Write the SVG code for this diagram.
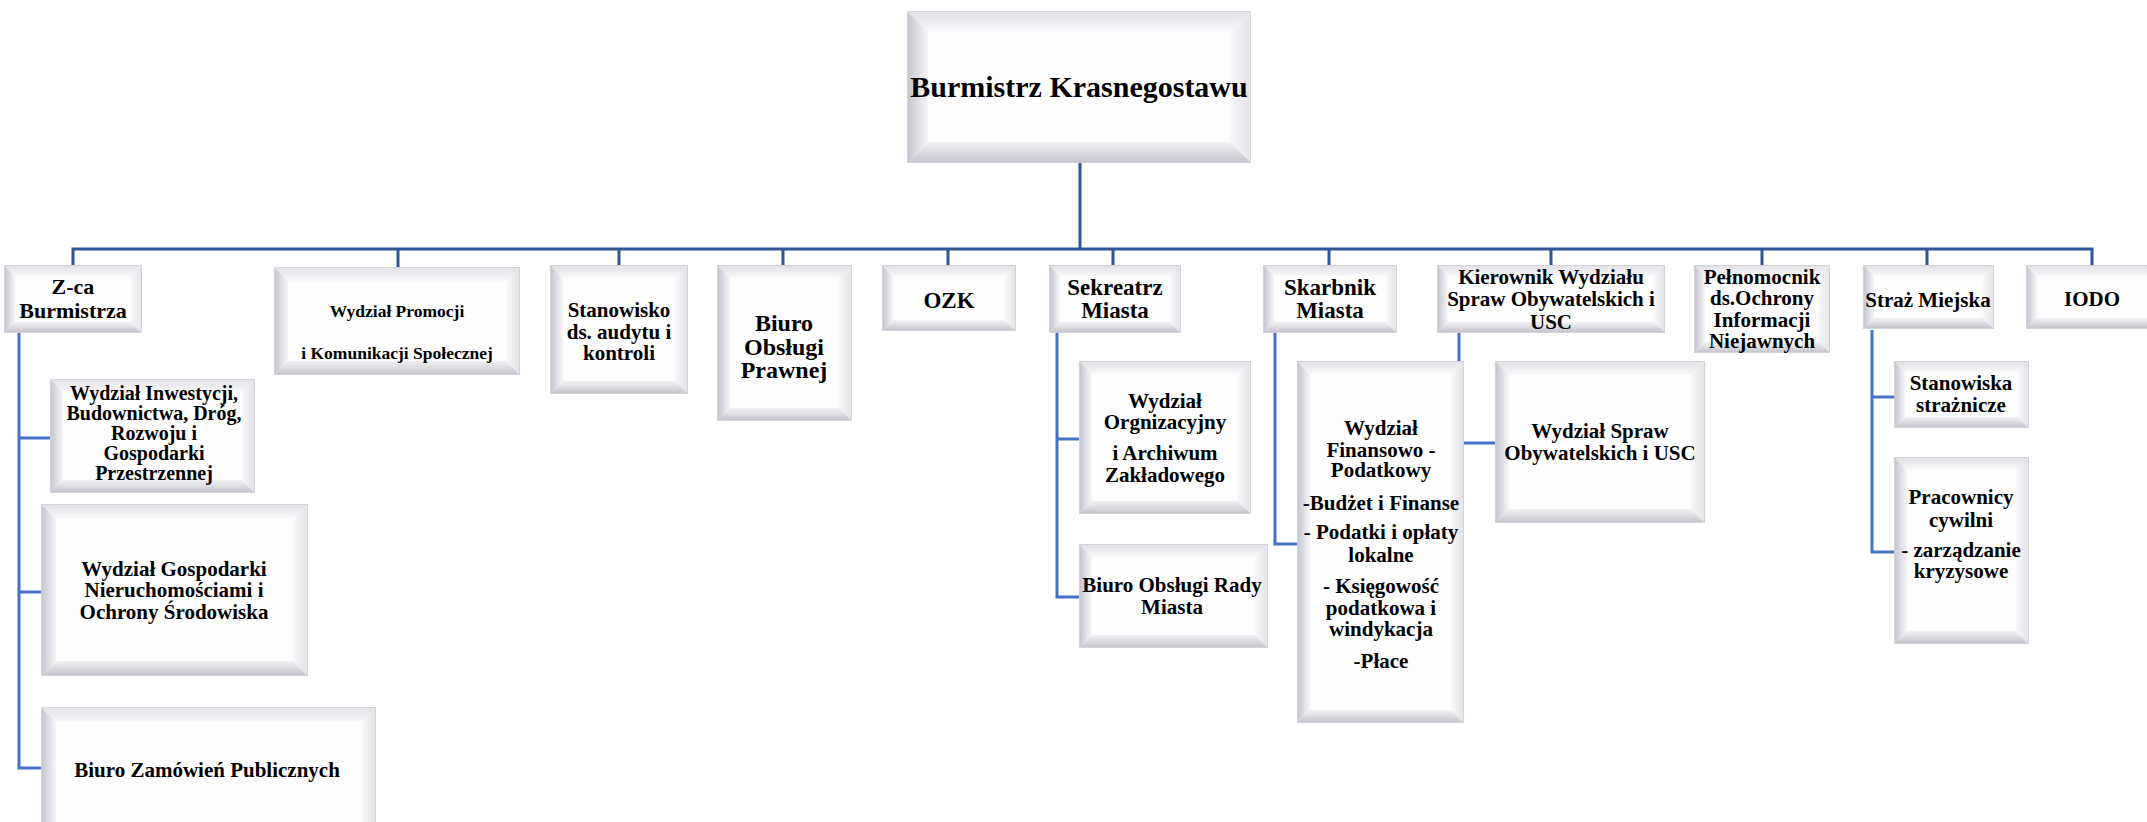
<svg xmlns="http://www.w3.org/2000/svg" width="2147" height="822" viewBox="0 0 2147 822">
<defs>
<linearGradient id="gL" x1="0" y1="0" x2="1" y2="0"><stop offset="0" stop-color="#c6c6d1"/><stop offset="1" stop-color="#f6f6f9"/></linearGradient>
<linearGradient id="gB" x1="0" y1="0" x2="0" y2="1"><stop offset="0" stop-color="#f2f2f5"/><stop offset="1" stop-color="#c6c6cf"/></linearGradient>
<linearGradient id="gT" x1="0" y1="0" x2="0" y2="1"><stop offset="0" stop-color="#e2e2e7"/><stop offset="1" stop-color="#f8f8fa"/></linearGradient>
<linearGradient id="gR" x1="0" y1="0" x2="1" y2="0"><stop offset="0" stop-color="#f8f8fa"/><stop offset="1" stop-color="#e3e3e8"/></linearGradient>
<style>
.fr{fill:#fdfdfe;stroke:#d4d4d8;stroke-width:2}
.bl{fill:url(#gL)}.bb{fill:url(#gB)}.bt{fill:url(#gT)}.br{fill:url(#gR)}
.t{font-family:"Liberation Serif","Times New Roman",serif;font-weight:bold;text-anchor:middle;fill:#000}
.main{fill:none;stroke:#2f5597;stroke-width:3}
.sub{fill:none;stroke:#4472c4;stroke-width:3}
</style>
</defs>
<rect width="2147" height="822" fill="#ffffff"/>
<g id="connectors">
<path class="main" d="M1080,162 V249"/>
<path class="main" d="M73,266 V249 H2092 V266"/>
<path class="main" d="M398,249 V268 M619,249 V266 M783,249 V266 M948,249 V266 M1113,249 V266 M1329,249 V266 M1551,249 V266 M1762,249 V266 M1927,249 V266"/>
<path class="sub" d="M19,333 V768 H42 M19,438 H51 M19,592 H42"/>
<path class="sub" d="M1057,333 V597 H1080 M1057,439 H1080"/>
<path class="sub" d="M1275,333 V544 H1298"/>
<path class="sub" d="M1459,333 V443 H1496"/>
<path class="sub" d="M1872,330 V552 H1895 M1872,397 H1895"/>
</g>
<g id="burmistrz">
<rect class="fr" x="908" y="12" width="342" height="150"/>
<polygon class="bt" points="908,12 1250,12 1230,32 928,32"/>
<polygon class="br" points="1250,12 1250,162 1230,142 1230,32"/>
<polygon class="bb" points="908,162 1250,162 1230,142 928,142"/>
<polygon class="bl" points="908,12 928,32 928,142 908,162"/>
<text class="t" x="1079" y="97" font-size="30">Burmistrz Krasnegostawu</text>
</g>
<g id="zca">
<rect class="fr" x="5" y="266" width="136" height="66"/>
<polygon class="bt" points="5,266 141,266 131,276 15,276"/>
<polygon class="br" points="141,266 141,332 131,322 131,276"/>
<polygon class="bb" points="5,332 141,332 131,322 15,322"/>
<polygon class="bl" points="5,266 15,276 15,322 5,332"/>
<text class="t" x="73" y="294" font-size="22">Z-ca</text>
<text class="t" x="73" y="318" font-size="22">Burmistrza</text>
</g>
<g id="promocji">
<rect class="fr" x="275" y="268" width="244" height="106"/>
<polygon class="bt" points="275,268 519,268 506,281 288,281"/>
<polygon class="br" points="519,268 519,374 506,361 506,281"/>
<polygon class="bb" points="275,374 519,374 506,361 288,361"/>
<polygon class="bl" points="275,268 288,281 288,361 275,374"/>
<text class="t" x="397" y="317" font-size="17.5">Wydział Promocji</text>
<text class="t" x="397" y="359" font-size="17.5">i Komunikacji Społecznej</text>
</g>
<g id="audyt">
<rect class="fr" x="551" y="266" width="136" height="127"/>
<polygon class="bt" points="551,266 687,266 675,278 563,278"/>
<polygon class="br" points="687,266 687,393 675,381 675,278"/>
<polygon class="bb" points="551,393 687,393 675,381 563,381"/>
<polygon class="bl" points="551,266 563,278 563,381 551,393"/>
<text class="t" x="619" y="317" font-size="21">Stanowisko</text>
<text class="t" x="619" y="339" font-size="21">ds. audytu i</text>
<text class="t" x="619" y="360" font-size="21">kontroli</text>
</g>
<g id="prawna">
<rect class="fr" x="718" y="266" width="133" height="154"/>
<polygon class="bt" points="718,266 851,266 839,278 730,278"/>
<polygon class="br" points="851,266 851,420 839,408 839,278"/>
<polygon class="bb" points="718,420 851,420 839,408 730,408"/>
<polygon class="bl" points="718,266 730,278 730,408 718,420"/>
<text class="t" x="784" y="331" font-size="24">Biuro</text>
<text class="t" x="784" y="355" font-size="24">Obsługi</text>
<text class="t" x="784" y="378" font-size="24">Prawnej</text>
</g>
<g id="ozk">
<rect class="fr" x="883" y="266" width="132" height="64"/>
<polygon class="bt" points="883,266 1015,266 1005,276 893,276"/>
<polygon class="br" points="1015,266 1015,330 1005,320 1005,276"/>
<polygon class="bb" points="883,330 1015,330 1005,320 893,320"/>
<polygon class="bl" points="883,266 893,276 893,320 883,330"/>
<text class="t" x="949" y="308" font-size="23">OZK</text>
</g>
<g id="sekretarz">
<rect class="fr" x="1050" y="266" width="130" height="66"/>
<polygon class="bt" points="1050,266 1180,266 1170,276 1060,276"/>
<polygon class="br" points="1180,266 1180,332 1170,322 1170,276"/>
<polygon class="bb" points="1050,332 1180,332 1170,322 1060,322"/>
<polygon class="bl" points="1050,266 1060,276 1060,322 1050,332"/>
<text class="t" x="1115" y="295" font-size="23">Sekreatrz</text>
<text class="t" x="1115" y="318" font-size="23">Miasta</text>
</g>
<g id="skarbnik">
<rect class="fr" x="1264" y="266" width="132" height="66"/>
<polygon class="bt" points="1264,266 1396,266 1386,276 1274,276"/>
<polygon class="br" points="1396,266 1396,332 1386,322 1386,276"/>
<polygon class="bb" points="1264,332 1396,332 1386,322 1274,322"/>
<polygon class="bl" points="1264,266 1274,276 1274,322 1264,332"/>
<text class="t" x="1330" y="295" font-size="23">Skarbnik</text>
<text class="t" x="1330" y="318" font-size="23">Miasta</text>
</g>
<g id="kierownik">
<rect class="fr" x="1438" y="266" width="226" height="66"/>
<polygon class="bt" points="1438,266 1664,266 1654,276 1448,276"/>
<polygon class="br" points="1664,266 1664,332 1654,322 1654,276"/>
<polygon class="bb" points="1438,332 1664,332 1654,322 1448,322"/>
<polygon class="bl" points="1438,266 1448,276 1448,322 1438,332"/>
<text class="t" x="1551" y="284" font-size="21">Kierownik Wydziału</text>
<text class="t" x="1551" y="306" font-size="21">Spraw Obywatelskich i</text>
<text class="t" x="1551" y="329" font-size="21">USC</text>
</g>
<g id="pelnomocnik">
<rect class="fr" x="1695" y="266" width="134" height="86"/>
<polygon class="bt" points="1695,266 1829,266 1819,276 1705,276"/>
<polygon class="br" points="1829,266 1829,352 1819,342 1819,276"/>
<polygon class="bb" points="1695,352 1829,352 1819,342 1705,342"/>
<polygon class="bl" points="1695,266 1705,276 1705,342 1695,352"/>
<text class="t" x="1762" y="284" font-size="21">Pełnomocnik</text>
<text class="t" x="1762" y="305" font-size="21">ds.Ochrony</text>
<text class="t" x="1762" y="327" font-size="21">Informacji</text>
<text class="t" x="1762" y="348" font-size="21">Niejawnych</text>
</g>
<g id="straz">
<rect class="fr" x="1864" y="266" width="129" height="62"/>
<polygon class="bt" points="1864,266 1993,266 1983,276 1874,276"/>
<polygon class="br" points="1993,266 1993,328 1983,318 1983,276"/>
<polygon class="bb" points="1864,328 1993,328 1983,318 1874,318"/>
<polygon class="bl" points="1864,266 1874,276 1874,318 1864,328"/>
<text class="t" x="1928" y="307" font-size="21">Straż Miejska</text>
</g>
<g id="iodo">
<rect class="fr" x="2027" y="266" width="130" height="62"/>
<polygon class="bt" points="2027,266 2157,266 2147,276 2037,276"/>
<polygon class="bb" points="2027,328 2157,328 2147,318 2037,318"/>
<polygon class="bl" points="2027,266 2037,276 2037,318 2027,328"/>
<text class="t" x="2092" y="306" font-size="21">IODO</text>
</g>
<g id="inwestycji">
<rect class="fr" x="51" y="380" width="203" height="112"/>
<polygon class="bt" points="51,380 254,380 242,392 63,392"/>
<polygon class="br" points="254,380 254,492 242,480 242,392"/>
<polygon class="bb" points="51,492 254,492 242,480 63,480"/>
<polygon class="bl" points="51,380 63,392 63,480 51,492"/>
<text class="t" x="154" y="400" font-size="20">Wydział Inwestycji,</text>
<text class="t" x="154" y="420" font-size="20">Budownictwa, Dróg,</text>
<text class="t" x="154" y="440" font-size="20">Rozwoju i</text>
<text class="t" x="154" y="460" font-size="20">Gospodarki</text>
<text class="t" x="154" y="480" font-size="20">Przestrzennej</text>
</g>
<g id="nieruchomosci">
<rect class="fr" x="42" y="505" width="265" height="170"/>
<polygon class="bt" points="42,505 307,505 293,519 56,519"/>
<polygon class="br" points="307,505 307,675 293,661 293,519"/>
<polygon class="bb" points="42,675 307,675 293,661 56,661"/>
<polygon class="bl" points="42,505 56,519 56,661 42,675"/>
<text class="t" x="174" y="576" font-size="21">Wydział Gospodarki</text>
<text class="t" x="174" y="597" font-size="21">Nieruchomościami i</text>
<text class="t" x="174" y="619" font-size="21">Ochrony Środowiska</text>
</g>
<g id="zamowienia">
<rect class="fr" x="42" y="708" width="333" height="130"/>
<polygon class="bt" points="42,708 375,708 361,722 56,722"/>
<polygon class="br" points="375,708 375,838 361,824 361,722"/>
<polygon class="bl" points="42,708 56,722 56,824 42,838"/>
<text class="t" x="207" y="777" font-size="21">Biuro Zamówień Publicznych</text>
</g>
<g id="organizacyjny">
<rect class="fr" x="1080" y="362" width="170" height="151"/>
<polygon class="bt" points="1080,362 1250,362 1238,374 1092,374"/>
<polygon class="br" points="1250,362 1250,513 1238,501 1238,374"/>
<polygon class="bb" points="1080,513 1250,513 1238,501 1092,501"/>
<polygon class="bl" points="1080,362 1092,374 1092,501 1080,513"/>
<text class="t" x="1165" y="408" font-size="21">Wydział</text>
<text class="t" x="1165" y="429" font-size="21">Orgnizacyjny</text>
<text class="t" x="1165" y="460" font-size="21">i Archiwum</text>
<text class="t" x="1165" y="482" font-size="21">Zakładowego</text>
</g>
<g id="rada">
<rect class="fr" x="1080" y="545" width="187" height="102"/>
<polygon class="bt" points="1080,545 1267,545 1255,557 1092,557"/>
<polygon class="br" points="1267,545 1267,647 1255,635 1255,557"/>
<polygon class="bb" points="1080,647 1267,647 1255,635 1092,635"/>
<polygon class="bl" points="1080,545 1092,557 1092,635 1080,647"/>
<text class="t" x="1172" y="592" font-size="21">Biuro Obsługi Rady</text>
<text class="t" x="1172" y="614" font-size="21">Miasta</text>
</g>
<g id="finansowy">
<rect class="fr" x="1298" y="362" width="165" height="360"/>
<polygon class="bt" points="1298,362 1463,362 1451,374 1310,374"/>
<polygon class="br" points="1463,362 1463,722 1451,710 1451,374"/>
<polygon class="bb" points="1298,722 1463,722 1451,710 1310,710"/>
<polygon class="bl" points="1298,362 1310,374 1310,710 1298,722"/>
<text class="t" x="1381" y="435" font-size="21">Wydział</text>
<text class="t" x="1381" y="457" font-size="21">Finansowo -</text>
<text class="t" x="1381" y="477" font-size="21">Podatkowy</text>
<text class="t" x="1381" y="510" font-size="21">-Budżet i Finanse</text>
<text class="t" x="1381" y="539" font-size="21">- Podatki i opłaty</text>
<text class="t" x="1381" y="562" font-size="21">lokalne</text>
<text class="t" x="1381" y="593" font-size="21">- Księgowość</text>
<text class="t" x="1381" y="615" font-size="21">podatkowa i</text>
<text class="t" x="1381" y="636" font-size="21">windykacja</text>
<text class="t" x="1381" y="668" font-size="21">-Płace</text>
</g>
<g id="usc">
<rect class="fr" x="1496" y="362" width="208" height="160"/>
<polygon class="bt" points="1496,362 1704,362 1691,375 1509,375"/>
<polygon class="br" points="1704,362 1704,522 1691,509 1691,375"/>
<polygon class="bb" points="1496,522 1704,522 1691,509 1509,509"/>
<polygon class="bl" points="1496,362 1509,375 1509,509 1496,522"/>
<text class="t" x="1600" y="438" font-size="21">Wydział Spraw</text>
<text class="t" x="1600" y="460" font-size="21">Obywatelskich i USC</text>
</g>
<g id="straznicze">
<rect class="fr" x="1895" y="362" width="133" height="65"/>
<polygon class="bt" points="1895,362 2028,362 2018,372 1905,372"/>
<polygon class="br" points="2028,362 2028,427 2018,417 2018,372"/>
<polygon class="bb" points="1895,427 2028,427 2018,417 1905,417"/>
<polygon class="bl" points="1895,362 1905,372 1905,417 1895,427"/>
<text class="t" x="1961" y="390" font-size="21">Stanowiska</text>
<text class="t" x="1961" y="412" font-size="21">strażnicze</text>
</g>
<g id="cywilni">
<rect class="fr" x="1895" y="458" width="133" height="185"/>
<polygon class="bt" points="1895,458 2028,458 2016,470 1907,470"/>
<polygon class="br" points="2028,458 2028,643 2016,631 2016,470"/>
<polygon class="bb" points="1895,643 2028,643 2016,631 1907,631"/>
<polygon class="bl" points="1895,458 1907,470 1907,631 1895,643"/>
<text class="t" x="1961" y="504" font-size="21">Pracownicy</text>
<text class="t" x="1961" y="527" font-size="21">cywilni</text>
<text class="t" x="1961" y="557" font-size="21">- zarządzanie</text>
<text class="t" x="1961" y="578" font-size="21">kryzysowe</text>
</g>
</svg>
